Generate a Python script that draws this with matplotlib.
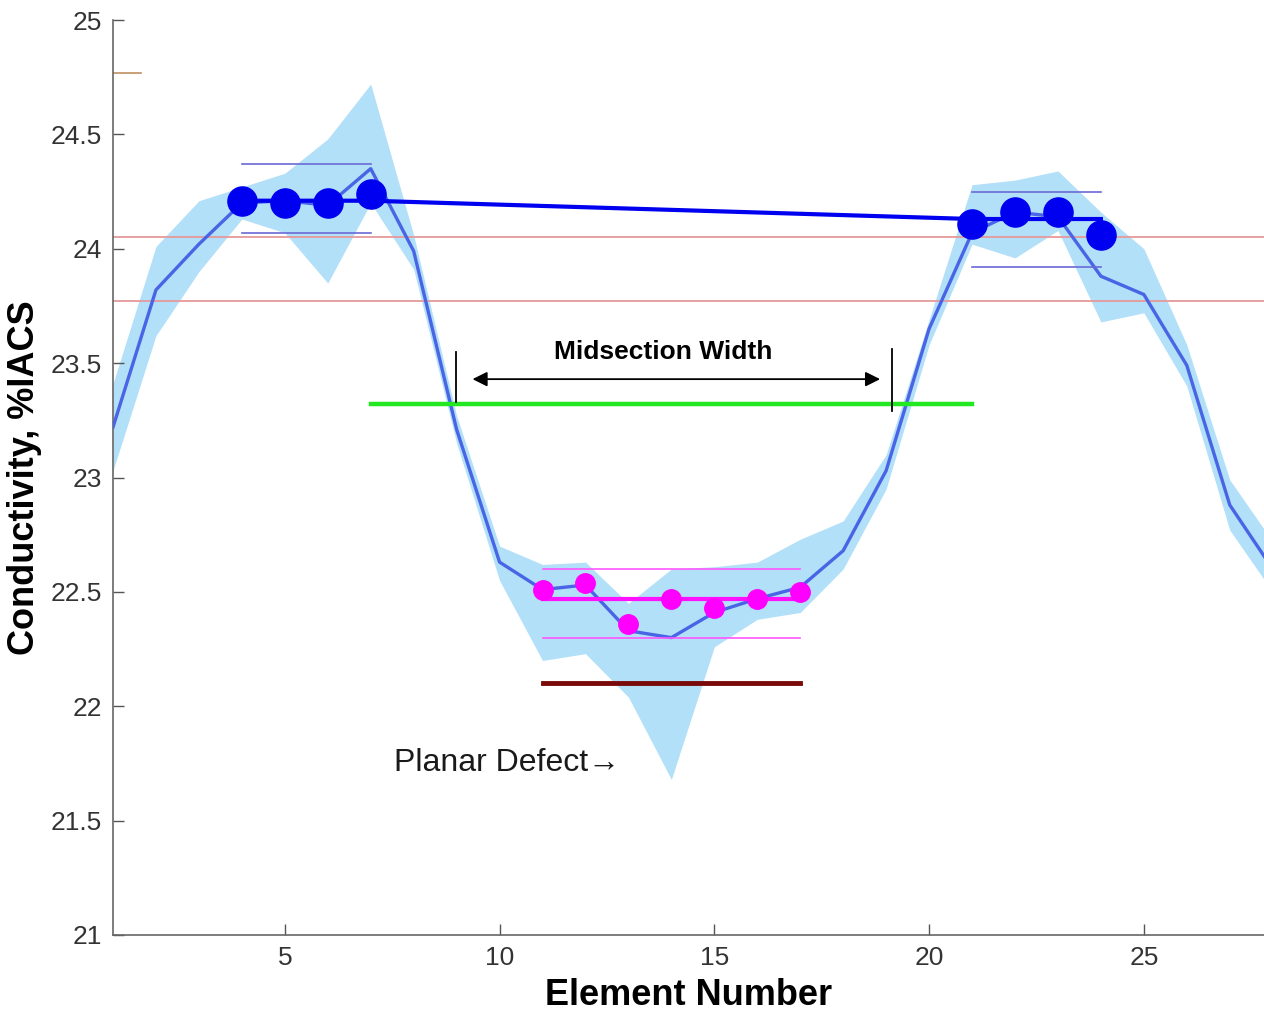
import numpy as np
import matplotlib
matplotlib.use("Agg")
import matplotlib.pyplot as plt

plt.rcParams['font.family'] = ['Liberation Sans', 'DejaVu Sans']

# eddy-current scan: element number vs conductivity (%IACS)
elements = np.arange(1, 29)
mean_cond = [23.22, 23.82, 24.02, 24.20, 24.21, 24.19, 24.35, 23.99, 23.21, 22.63,
             22.51, 22.53, 22.33, 22.30, 22.41, 22.47, 22.52, 22.68, 23.03, 23.65,
             24.07, 24.16, 24.14, 23.88, 23.80, 23.49, 22.88, 22.60]
band_lo = [23.03, 23.62, 23.90, 24.13, 24.07, 23.85, 24.20, 23.91, 23.15, 22.55,
           22.20, 22.23, 22.04, 21.68, 22.26, 22.38, 22.41, 22.60, 22.95, 23.58,
           24.02, 23.96, 24.08, 23.68, 23.72, 23.40, 22.77, 22.50]
band_hi = [23.41, 24.01, 24.21, 24.27, 24.33, 24.48, 24.72, 24.06, 23.27, 22.70,
           22.62, 22.63, 22.45, 22.60, 22.61, 22.63, 22.73, 22.81, 23.10, 23.69,
           24.28, 24.30, 24.34, 24.16, 24.00, 23.58, 22.99, 22.72]

left_x = [4, 5, 6, 7]
left_y = [24.21, 24.20, 24.20, 24.24]
right_x = [21, 22, 23, 24]
right_y = [24.11, 24.16, 24.16, 24.06]
defect_x = [11, 12, 13, 14, 15, 16, 17]
defect_y = [22.51, 22.54, 22.36, 22.47, 22.43, 22.47, 22.50]

base_x = [4, 7, 21, 24]
base_y = [24.21, 24.21, 24.13, 24.13]
left_lims = (24.37, 24.07)
right_lims = (24.25, 23.92)
defect_mean = 22.47
defect_lims = (22.60, 22.30)
defect_thresh = 22.10
red_levels = [24.05, 23.77]
mid_level = 23.32
cross_x = [8.99, 19.13]

fig = plt.figure(figsize=(12.64, 10.11), dpi=100)
ax = fig.add_axes([113 / 1264, 1 - 935 / 1011, 1 - 113 / 1264, 915 / 1011])

ax.fill_between(elements, band_lo, band_hi, color='#b2e0f8', lw=0, zorder=1)
for lv in red_levels:
    ax.axhline(lv, color='#e59a9a', lw=1.3, zorder=2)
ax.plot([1, 1.65], [24.77, 24.77], color='#c09060', lw=1.2, zorder=2)

ax.plot(elements, mean_cond, color='#4a64e6', lw=2.4, zorder=3)

# baseline and limits
ax.plot(base_x, base_y, color='#0000f0', lw=3, zorder=4)
for lv in left_lims:
    ax.plot([left_x[0], left_x[-1]], [lv, lv], color='#6a6ad6', lw=1.2, zorder=4)
for lv in right_lims:
    ax.plot([right_x[0], right_x[-1]], [lv, lv], color='#6a6ad6', lw=1.2, zorder=4)
ax.plot(left_x, left_y, 'o', color='#0000f0', ms=21, zorder=5)
ax.plot(right_x, right_y, 'o', color='#0000f0', ms=21, zorder=5)

# defect region
ax.plot([defect_x[0], defect_x[-1]], [defect_mean] * 2, color='#ff10ff', lw=3, zorder=4)
for lv in defect_lims:
    ax.plot([defect_x[0], defect_x[-1]], [lv, lv], color='#ff55ff', lw=1.2, zorder=4)
ax.plot([defect_x[0], defect_x[-1]], [defect_thresh] * 2, color='#7a0a0a', lw=3.5, zorder=4)
ax.plot(defect_x, defect_y, 'o', color='#ff00ff', ms=14, zorder=5)

# midsection width
ax.plot([left_x[-1], right_x[0]], [mid_level] * 2, color='#22e822', lw=3.2, zorder=4)
ax.plot([cross_x[0]] * 2, [23.33, 23.55], color='black', lw=1.3, zorder=5)
ax.plot([cross_x[1]] * 2, [23.29, 23.56], color='black', lw=1.3, zorder=5)
ax.annotate('', xy=(9.37, 23.43), xytext=(18.86, 23.43),
            arrowprops=dict(arrowstyle='<|-|>', color='black', lw=1.3,
                            mutation_scale=22, shrinkA=0, shrinkB=0), zorder=5)
ax.text(13.8, 23.55, 'Midsection Width', ha='center', va='center',
        fontsize=19, fontweight='bold', zorder=6)
ax.text(7.54, 21.75, 'Planar Defect\u2192', ha='left', va='center',
        fontsize=23, color='#1a1a1a', zorder=6)

ax.set_xlim(1, 1 + (1264 - 114.4) / 42.9)
ax.set_ylim(21, 25)
ax.set_xticks([5, 10, 15, 20, 25])
ax.set_yticks(np.arange(21, 25.01, 0.5))
ax.set_yticklabels(['21', '21.5', '22', '22.5', '23', '23.5', '24', '24.5', '25'])
ax.tick_params(direction='in', length=8, width=1, colors='#555555',
               labelsize=19, labelcolor='#333333', pad=8)
ax.spines['top'].set_visible(False)
ax.spines['right'].set_visible(False)
for s in ['left', 'bottom']:
    ax.spines[s].set_color('#666666')
    ax.spines[s].set_linewidth(1.2)

ax.set_xlabel('Element Number', fontsize=26, fontweight='bold', labelpad=6)
ax.set_ylabel('Conductivity, %IACS', fontsize=26, fontweight='bold', labelpad=6)

fig.savefig('out.png', dpi=100)
